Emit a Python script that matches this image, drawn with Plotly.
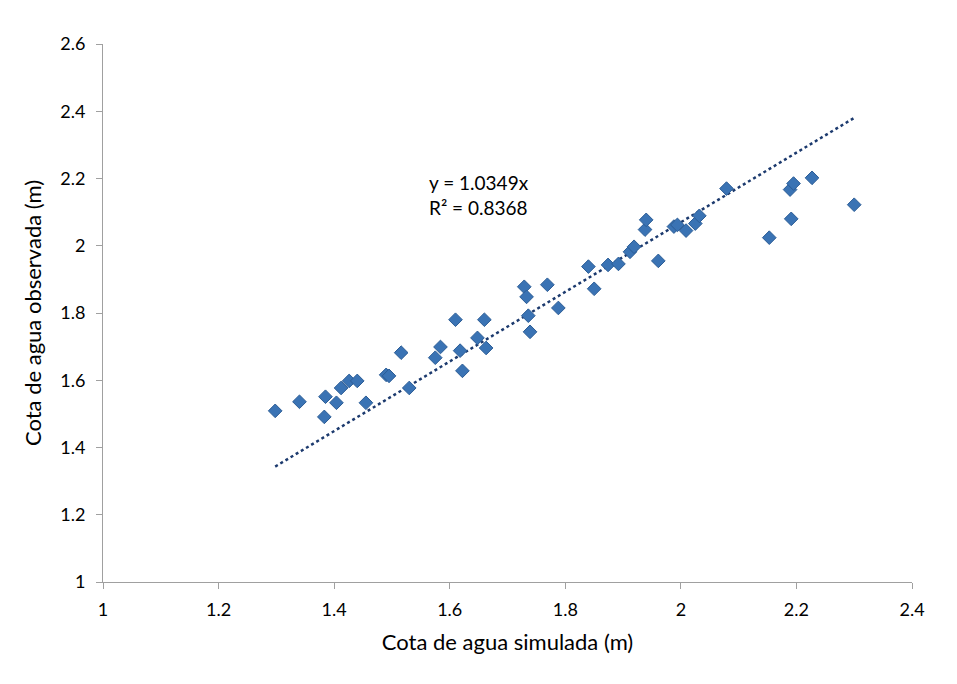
import plotly.graph_objects as go

sim = [1.298, 1.340, 1.385, 1.383, 1.404, 1.412, 1.426, 1.440, 1.455, 1.490, 1.495,
       1.516, 1.530, 1.575, 1.584, 1.610, 1.618, 1.622, 1.648, 1.660, 1.663,
       1.729, 1.733, 1.736, 1.739, 1.769, 1.788, 1.840, 1.850, 1.874, 1.892,
       1.912, 1.919, 1.938, 1.940, 1.961, 1.988, 1.994, 2.009, 2.025, 2.032,
       2.079, 2.153, 2.189, 2.195, 2.191, 2.227, 2.300]
obs = [1.509, 1.536, 1.551, 1.491, 1.533, 1.577, 1.598, 1.598, 1.533, 1.616, 1.613,
       1.682, 1.577, 1.667, 1.699, 1.780, 1.688, 1.628, 1.726, 1.780, 1.696,
       1.878, 1.848, 1.792, 1.744, 1.884, 1.815, 1.938, 1.872, 1.943, 1.946,
       1.982, 1.997, 2.048, 2.077, 1.955, 2.057, 2.062, 2.045, 2.066, 2.089,
       2.170, 2.024, 2.167, 2.185, 2.080, 2.202, 2.122]
slope = 1.0349
r2 = 0.8368
x_ticks = [1, 1.2, 1.4, 1.6, 1.8, 2, 2.2, 2.4]
y_ticks = [1, 1.2, 1.4, 1.6, 1.8, 2, 2.2, 2.4, 2.6]

FONT = "Lato, 'Open Sans', sans-serif"

trend_x = [min(sim), max(sim)]
trend_y = [slope * v for v in trend_x]

fig = go.Figure()
fig.add_trace(go.Scatter(
    x=trend_x, y=trend_y, mode="lines",
    line=dict(color="#1c3a6e", width=2.5, dash="dot"),
    hoverinfo="skip", showlegend=False))
fig.add_trace(go.Scatter(
    x=sim, y=obs, mode="markers",
    marker=dict(symbol="diamond", size=10.5, color="#3a73b4",
                line=dict(color="#2c5d96", width=1)),
    showlegend=False))

fig.add_annotation(
    x=1.561, y=2.152, xref="x", yref="y", xanchor="left", yanchor="middle",
    text=f"y = {slope}x<br>R² = {r2}", showarrow=False, align="left",
    font=dict(family=FONT, size=19, color="#000000"))

axis_common = dict(
    showgrid=False, zeroline=False, showline=True, linecolor="#a0a0a0", linewidth=1,
    ticks="outside", ticklen=6, tickcolor="#a0a0a0",
    tickfont=dict(family=FONT, size=18, color="#000000"))

fig.update_xaxes(range=[1, 2.4], tickvals=x_ticks, ticktext=[f"{v:g}" for v in x_ticks],
                 ticklabelstandoff=5,
                 title=dict(text="Cota de agua simulada (m)",
                            font=dict(family=FONT, size=22, color="#000000"), standoff=16),
                 **axis_common)
fig.update_yaxes(range=[1, 2.6], tickvals=y_ticks, ticktext=[f"{v:g}" for v in y_ticks],
                 ticklabelstandoff=7,
                 title=dict(text="Cota de agua observada (m)",
                            font=dict(family=FONT, size=22, color="#000000"), standoff=12),
                 **axis_common)

fig.update_layout(
    width=957, height=684,
    margin=dict(l=103, r=45, t=44, b=102),
    paper_bgcolor="#ffffff", plot_bgcolor="#ffffff",
    font=dict(family=FONT))

fig.write_html("out.html")
